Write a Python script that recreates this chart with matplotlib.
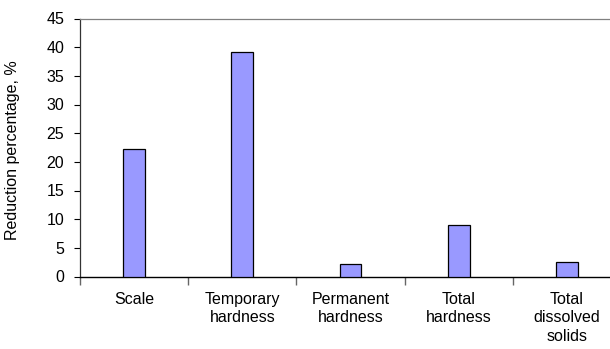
import matplotlib
matplotlib.use("Agg")
import matplotlib.pyplot as plt
import numpy as np

categories = ["Scale", "Temporary\nhardness", "Permanent\nhardness", "Total\nhardness", "Total\ndissolved\nsolids"]
values = [22.2, 39.2, 2.2, 8.9, 2.6]
yticks = [0, 5, 10, 15, 20, 25, 30, 35, 40, 45]

plt.rcParams['font.family'] = ['Liberation Sans', 'DejaVu Sans']

W, H = 610, 349
fig = plt.figure(figsize=(W/100, H/100), dpi=100)
left, right = 80, 621
top, bottom = 18.5, 276.5
ax = fig.add_axes([left/W, 1-bottom/H, (right-left)/W, (bottom-top)/H])

x = np.arange(len(categories))
ax.bar(x, values, width=0.2, color="#9999FF", edgecolor="black", linewidth=0.9, zorder=3)

fs = 11.5
ax.set_xlim(-0.5, len(categories)-0.5)
ax.set_ylim(0, 45)
ax.set_yticks(yticks)
ax.tick_params(axis='y', direction='out', length=4.3, width=0.8, labelsize=fs, pad=7, color='black')

ax.set_xticks(x)
ax.set_xticklabels(categories, fontsize=fs, linespacing=1.3, va='top')
ax.tick_params(axis='x', which='major', length=0, pad=11)
ax.set_xticks(np.arange(len(categories)+1)-0.5, minor=True)
ax.tick_params(axis='x', which='minor', direction='out', length=5.5, width=1.0, color='#666666')

ax.spines['right'].set_visible(False)
ax.spines['top'].set_color('#808080')
ax.spines['top'].set_linewidth(0.9)
ax.spines['left'].set_color('#333333')
ax.spines['left'].set_linewidth(0.9)
ax.spines['bottom'].set_color('black')
ax.spines['bottom'].set_linewidth(1.0)

ax.set_ylabel("Reduction percentage, %", fontsize=fs)
ax.yaxis.set_label_coords(20/W, 1-150/H, transform=fig.transFigure)

fig.savefig("out.png", dpi=100)
